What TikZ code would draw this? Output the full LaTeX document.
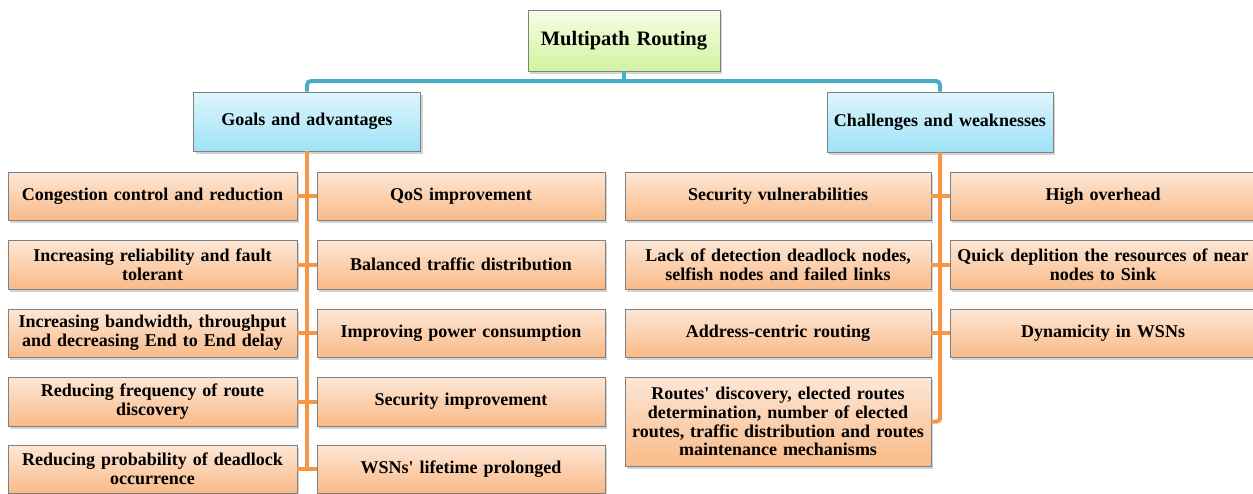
\documentclass[tikz,border=0pt]{standalone}
\usepackage{fontspec}
\setmainfont{Liberation Serif}
\usetikzlibrary{shadows}
\definecolor{bline}{HTML}{4BACC6}
\definecolor{oline}{HTML}{F79646}
\definecolor{otop}{HTML}{FDE7D6}
\definecolor{obot}{HTML}{F9BA88}
\definecolor{btop}{HTML}{DFF6FC}
\definecolor{bbot}{HTML}{9EE2F7}
\definecolor{gtop}{HTML}{F5FDE6}
\definecolor{gbot}{HTML}{D3F3A0}
\definecolor{bord}{HTML}{808080}
\tikzset{
  basebox/.style={draw=bord, line width=0.9pt, align=center, inner xsep=3pt, inner ysep=1pt,
    font=\bfseries\fontsize{18}{18.7}\selectfont,
    drop shadow={opacity=0.35, shadow xshift=2pt, shadow yshift=-3pt}},
  obox/.style={basebox, top color=otop, bottom color=obot},
  bbox/.style={basebox, top color=btop, bottom color=bbot},
  gbox/.style={basebox, top color=gtop, bottom color=gbot, font=\bfseries\fontsize{20.5}{23}\selectfont},
  bconn/.style={draw=bline, line width=4pt},
  oconn/.style={draw=oline, line width=4pt},
}
\begin{document}
\begin{tikzpicture}[x=1pt,y=-1pt]
\useasboundingbox (0,0) rectangle (1253,493);
% root and level 1
\node[gbox, minimum width=192pt, minimum height=61pt, text width=186pt] (root) at (624,40.5) {Multipath Routing};
\node[bbox, minimum width=227pt, minimum height=59pt, text width=221pt] (goals) at (307,121.5) {Goals and advantages};
\node[bbox, minimum width=226pt, minimum height=60pt, text width=220pt] (chal) at (940,122) {Challenges and weaknesses};
% left group
\node[obox, minimum width=289pt, minimum height=48pt, text width=283pt] (l1) at (152.5,196) {Congestion control and reduction};
\node[obox, minimum width=289pt, minimum height=49pt, text width=283pt] (l2) at (152.5,264.5) {Increasing reliability and fault\\tolerant};
\node[obox, minimum width=289pt, minimum height=48pt, text width=283pt] (l3) at (152.5,333) {Increasing bandwidth, throughput\\and decreasing End to End delay};
\node[obox, minimum width=289pt, minimum height=49pt, text width=283pt] (l4) at (152.5,401.5) {Reducing frequency of route\\discovery};
\node[obox, minimum width=289pt, minimum height=48pt, text width=283pt] (l5) at (152.5,469) {Reducing probability of deadlock\\occurrence};
\node[obox, minimum width=288pt, minimum height=48pt, text width=282pt] (r1) at (461,196) {QoS improvement};
\node[obox, minimum width=288pt, minimum height=49pt, text width=282pt] (r2) at (461,264.5) {Balanced traffic distribution};
\node[obox, minimum width=288pt, minimum height=48pt, text width=282pt] (r3) at (461,333) {Improving power consumption};
\node[obox, minimum width=288pt, minimum height=49pt, text width=282pt] (r4) at (461,401.5) {Security improvement};
\node[obox, minimum width=288pt, minimum height=48pt, text width=282pt] (r5) at (461,469) {WSNs\textquotesingle{} lifetime prolonged};
% right group
\node[obox, minimum width=306pt, minimum height=48pt, text width=300pt] (c1) at (778,196) {Security vulnerabilities};
\node[obox, minimum width=306pt, minimum height=49pt, text width=300pt] (c2) at (778,264.5) {Lack of detection deadlock nodes,\\selfish nodes and failed links};
\node[obox, minimum width=306pt, minimum height=48pt, text width=300pt] (c3) at (778,333) {Address-centric routing};
\node[obox, minimum width=306pt, minimum height=89pt, text width=300pt] (c4) at (778,421.5) {Routes\textquotesingle{} discovery, elected routes\\determination, number of elected\\routes, traffic distribution and routes\\maintenance mechanisms};
\node[obox, minimum width=306pt, minimum height=48pt, text width=300pt] (d1) at (1103,196) {High overhead};
\node[obox, minimum width=306pt, minimum height=49pt, text width=300pt] (d2) at (1103,264.5) {Quick deplition the resources of near\\nodes to Sink};
\node[obox, minimum width=306pt, minimum height=48pt, text width=300pt] (d3) at (1103,333) {Dynamicity in WSNs};
% blue connectors
\coordinate (bus) at (624,81);
\draw[bconn] (root.south) -- (root.south |- bus);
\draw[bconn, rounded corners=4pt] (goals.north) -- (goals.north |- bus) -- (chal.north |- bus) -- (chal.north);
% orange connectors, left
\draw[oconn] (goals.south) -- (goals.south |- l5.east);
\foreach \i in {1,...,5} { \draw[oconn] (l\i.east) -- (r\i.west); }
% orange connectors, right
\draw[oconn, rounded corners=3pt] (chal.south) -- (chal.south |- c4.east) -- (c4.east);
\foreach \i in {1,2,3} { \draw[oconn] (c\i.east) -- (d\i.west); }
\end{tikzpicture}
\end{document}
